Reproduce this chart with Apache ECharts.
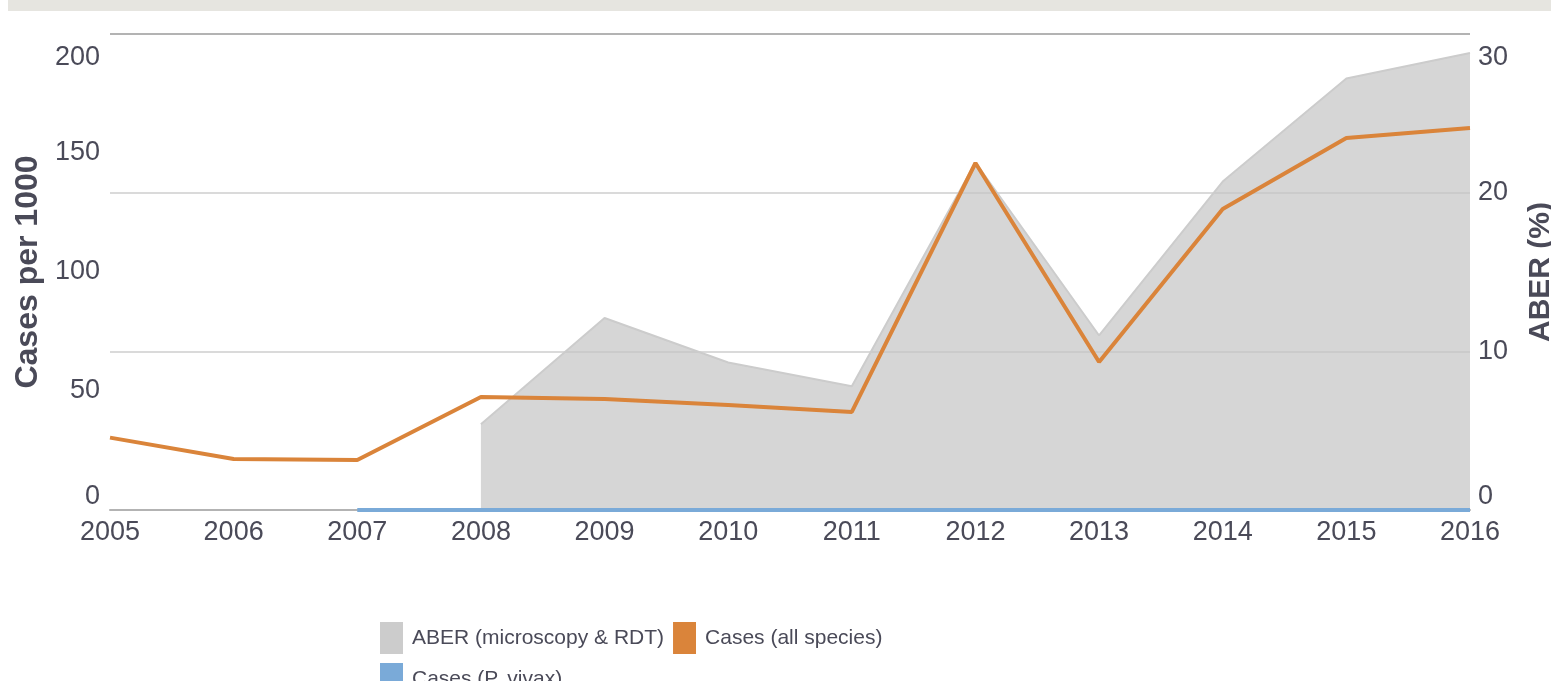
<!DOCTYPE html>
<html lang="en">
<head>
	<meta charset="UTF-8">
	<title>ABER and cases</title>
	<script src="https://cdn.jsdelivr.net/npm/echarts@6/dist/echarts.min.js"></script>
	<style>
		html,body{margin:0;padding:0;background:#fff;}
	</style>
</head>
<body>
	<div id="app" style="width:1551px;height:681px"></div>

	<script>
		// data
		var years=["2005","2006","2007","2008","2009","2010","2011","2012","2013","2014","2015","2016"];
		var aber=[null,null,null,5.4,12.1,9.3,7.8,21.9,11.0,20.7,27.2,28.8];//ABER (%), right axis
		var casesAll=[30.4,21.4,21.0,47.5,46.6,44.1,41.2,145.8,62.2,126.5,156.3,160.5];//per 1000
		var casesVivax=[null,null,0,0,0,0,0,0,0,0,0,0];

		var txt="#4a4a58";
		var font="'Liberation Sans', Arial, sans-serif";

		var myChart=echarts.init(document.getElementById('app'));
		var option={
			animation:false,
			textStyle:{fontFamily:font},
			graphic:[{//grey band on top
				type:"rect",
				left:8,top:0,
				shape:{width:1543,height:11},
				style:{fill:"#e6e5e0"}
			}],
			grid:{left:110,right:81,top:34,bottom:171,outerBoundsMode:"none"},
			legend:{
				left:380,top:622,width:540,padding:0,
				itemWidth:23,itemHeight:32,itemGap:9,
				icon:"rect",
				textStyle:{fontSize:21,color:txt,fontFamily:font,padding:[0,0,0,4]},
				data:["ABER (microscopy & RDT)","Cases (all species)","Cases (P. vivax)"]
			},
			xAxis:{
				type:"category",
				boundaryGap:false,
				data:years,
				axisLine:{lineStyle:{color:"#b3b3b3",width:2}},
				axisTick:{show:false},
				axisLabel:{fontSize:27,color:txt,margin:9,fontFamily:font}
			},
			yAxis:[
				{
					type:"value",
					min:0,max:200,interval:50,
					name:"Cases per 1000",
					nameLocation:"middle",
					nameRotate:90,
					nameGap:64,
					nameTextStyle:{fontSize:32,fontWeight:"bold",color:txt,fontFamily:font},
					splitLine:{show:false},
					axisLine:{show:false},
					axisTick:{show:false},
					axisLabel:{
						fontSize:27,color:txt,margin:10,fontFamily:font,
						padding:[10,0,0,0],
						verticalAlignMinLabel:"bottom",
						verticalAlignMaxLabel:"top"
					}
				},
				{
					type:"value",
					min:0,max:30,interval:10,
					name:"ABER (%)",
					nameLocation:"middle",
					nameRotate:90,
					nameGap:56,
					nameTextStyle:{fontSize:30,fontWeight:"bold",color:txt,fontFamily:font},
					splitLine:{lineStyle:{color:["#b3b3b3","#dadada","#dadada","#b3b3b3"],width:2}},
					axisLine:{show:false},
					axisTick:{show:false},
					axisLabel:{
						fontSize:27,color:txt,margin:8,fontFamily:font,
						padding:[10,0,0,0],
						verticalAlignMinLabel:"bottom",
						verticalAlignMaxLabel:"top"
					}
				}
			],
			series:[
				{
					name:"ABER (microscopy & RDT)",
					type:"line",
					yAxisIndex:1,
					data:aber,
					color:"#cccccc",
					showSymbol:false,
					lineStyle:{color:"#cccccc",width:2},
					areaStyle:{color:"#c4c4c4",opacity:0.7},
					z:1
				},
				{
					name:"Cases (all species)",
					type:"line",
					data:casesAll,
					color:"#da843a",
					showSymbol:false,
					lineStyle:{color:"#da843a",width:4},
					z:3
				},
				{
					name:"Cases (P. vivax)",
					type:"line",
					data:casesVivax,
					color:"#7aaad8",
					showSymbol:false,
					lineStyle:{color:"#7aaad8",width:4},
					z:2
				}
			]
		};
		myChart.setOption(option);
	</script>
</body>
</html>
